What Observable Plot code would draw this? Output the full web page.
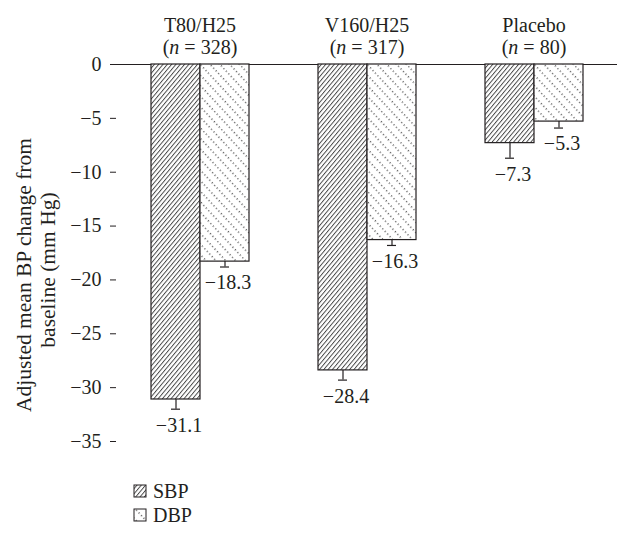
<!DOCTYPE html>
<html>
<head>
<meta charset="utf-8">
<script src="https://cdn.jsdelivr.net/npm/d3@7"></script>
<script src="https://cdn.jsdelivr.net/npm/@observablehq/plot@0.6"></script>
<style>
  body { margin: 0; background: #fff; font-family: "Liberation Serif", serif; color: #231f20; }
  #wrap { position: relative; width: 618px; height: 538px; }
  #legend { position: absolute; left: 133px; top: 479px; font-size: 20px; }
  .row { display: flex; align-items: center; height: 24px; }
  .row svg { margin-right: 6px; }
</style>
</head>
<body>
<div id="wrap"><div id="chart"></div><div id="legend"></div></div>
<script>
const groups = ["T80/H25", "V160/H25", "Placebo"];
const nValues = [328, 317, 80];
const measures = ["SBP", "DBP"];
const sbpValues = [-31.1, -28.4, -7.3];
const dbpValues = [-18.3, -16.3, -5.3];
const sbpErrors = [0.9, 0.9, 1.4];
const dbpErrors = [0.5, 0.5, 0.6];
const yTicks = [0, -5, -10, -15, -20, -25, -30, -35];
const yLabelLines = ["Adjusted mean BP change from", "baseline (mm Hg)"];

const ink = "#231f20";
const rows = [];
groups.forEach((g, i) => {
  rows.push({group: g, measure: "SBP", value: sbpValues[i], err: sbpErrors[i]});
  rows.push({group: g, measure: "DBP", value: dbpValues[i], err: dbpErrors[i]});
});
const groupRows = groups.map((g, i) => ({group: g, n: nValues[i]}));
const fmt = v => v.toFixed(1).replace("-", "\u2212");
const fmtTick = v => String(v).replace("-", "\u2212");

const chart = Plot.plot({
  width: 618,
  height: 470,
  marginTop: 64,
  marginBottom: 29,
  marginLeft: 115,
  marginRight: 0,
  style: {fontFamily: "Liberation Serif", fontSize: "20px", color: ink, background: "#fff"},
  fx: {domain: groups, paddingInner: 0, paddingOuter: 0, axis: null},
  x: {domain: measures, paddingInner: 0, paddingOuter: 0.68, axis: null},
  y: {domain: [-35, 0], ticks: yTicks},
  marks: [
    Plot.axisY({ticks: yTicks, tickFormat: fmtTick, tickSize: 6, tickPadding: 9, line: true, fontSize: 20, stroke: ink, fill: ink, label: null}),
    Plot.text([{group: groups[0], t: yLabelLines[0]}], {fx: "group", frameAnchor: "left", text: "t", rotate: -90,
      textAnchor: "middle", dx: -92, dy: 22, fill: ink, fontSize: 21.5}),
    Plot.text([{group: groups[0], t: yLabelLines[1]}], {fx: "group", frameAnchor: "left", text: "t", rotate: -90,
      textAnchor: "middle", dx: -68, dy: 17, fill: ink, fontSize: 21.5}),
    Plot.ruleY([0], {stroke: ink, strokeWidth: 1.2}),
    Plot.barY(rows.filter(d => d.measure === "SBP"), {fx: "group", x: "measure", y: "value", fill: "url(#sbpPat)", stroke: ink, strokeWidth: 1.2}),
    Plot.barY(rows.filter(d => d.measure === "DBP"), {fx: "group", x: "measure", y: "value", fill: "url(#dbpPat)", stroke: ink, strokeWidth: 1.2}),
    Plot.ruleX(rows, {fx: "group", x: "measure", y1: "value", y2: d => d.value - d.err, stroke: ink, strokeWidth: 1.2}),
    Plot.tickY(rows, {fx: "group", x: "measure", y: d => d.value - d.err, insetLeft: 20, insetRight: 20, stroke: ink, strokeWidth: 1.2}),
    Plot.text(rows, {fx: "group", x: "measure", y: d => d.value - d.err, dy: 16, dx: 3, text: d => fmt(d.value), fill: ink, fontSize: 20}),
    Plot.text(groupRows, {fx: "group", frameAnchor: "top", dy: -47, text: d => d.group, fill: ink, fontSize: 20}),
    Plot.text(groupRows, {fx: "group", frameAnchor: "top", dy: -25, text: d => `(n = ${d.n})`, fill: ink, fontSize: 20})
  ]
});

function patternDefs(sel, prefix) {
  const defs = sel.append("defs");
  const p1 = defs.append("pattern").attr("id", prefix + "sbpPat").attr("patternUnits", "userSpaceOnUse")
    .attr("width", 3.3).attr("height", 10).attr("patternTransform", "rotate(40)");
  p1.append("rect").attr("width", 3.3).attr("height", 10).attr("fill", "#fff");
  p1.append("line").attr("x1", 0.5).attr("x2", 0.5).attr("y1", 0).attr("y2", 10).attr("stroke", "#3a3a3a").attr("stroke-width", 0.9);
  const p2 = defs.append("pattern").attr("id", prefix + "dbpPat").attr("patternUnits", "userSpaceOnUse")
    .attr("width", 7.2).attr("height", 7.2).attr("patternTransform", "rotate(-43)");
  p2.append("rect").attr("width", 7.2).attr("height", 7.2).attr("fill", "#fff");
  p2.append("line").attr("x1", 1).attr("x2", 1).attr("y1", 0).attr("y2", 7.2).attr("stroke", "#222")
    .attr("stroke-width", 1.1).attr("stroke-dasharray", "1.1,2.5");
}
patternDefs(d3.select(chart), "");

d3.select(chart).selectAll("text").each(function() {
  const m = /^\(n = (\d+)\)$/.exec(this.textContent);
  if (m) {
    const t = d3.select(this);
    t.text(null);
    t.append("tspan").text("(");
    t.append("tspan").attr("font-style", "italic").text("n");
    t.append("tspan").text(" = " + m[1] + ")");
  }
  if (yLabelLines.includes(this.textContent)) {
    d3.select(this).attr("text-anchor", "middle");
  }
});

document.getElementById("chart").appendChild(chart);

const legend = d3.select("#legend");
measures.forEach(m => {
  const row = legend.append("div").attr("class", "row");
  const s = row.append("svg").attr("width", 14).attr("height", 14);
  patternDefs(s, "lg" + m);
  s.append("rect").attr("x", 1).attr("y", 1).attr("width", 12).attr("height", 12)
    .attr("fill", `url(#lg${m}${m.toLowerCase()}Pat)`).attr("stroke", ink).attr("stroke-width", 1);
  row.append("span").text(m);
});
</script>
</body>
</html>
